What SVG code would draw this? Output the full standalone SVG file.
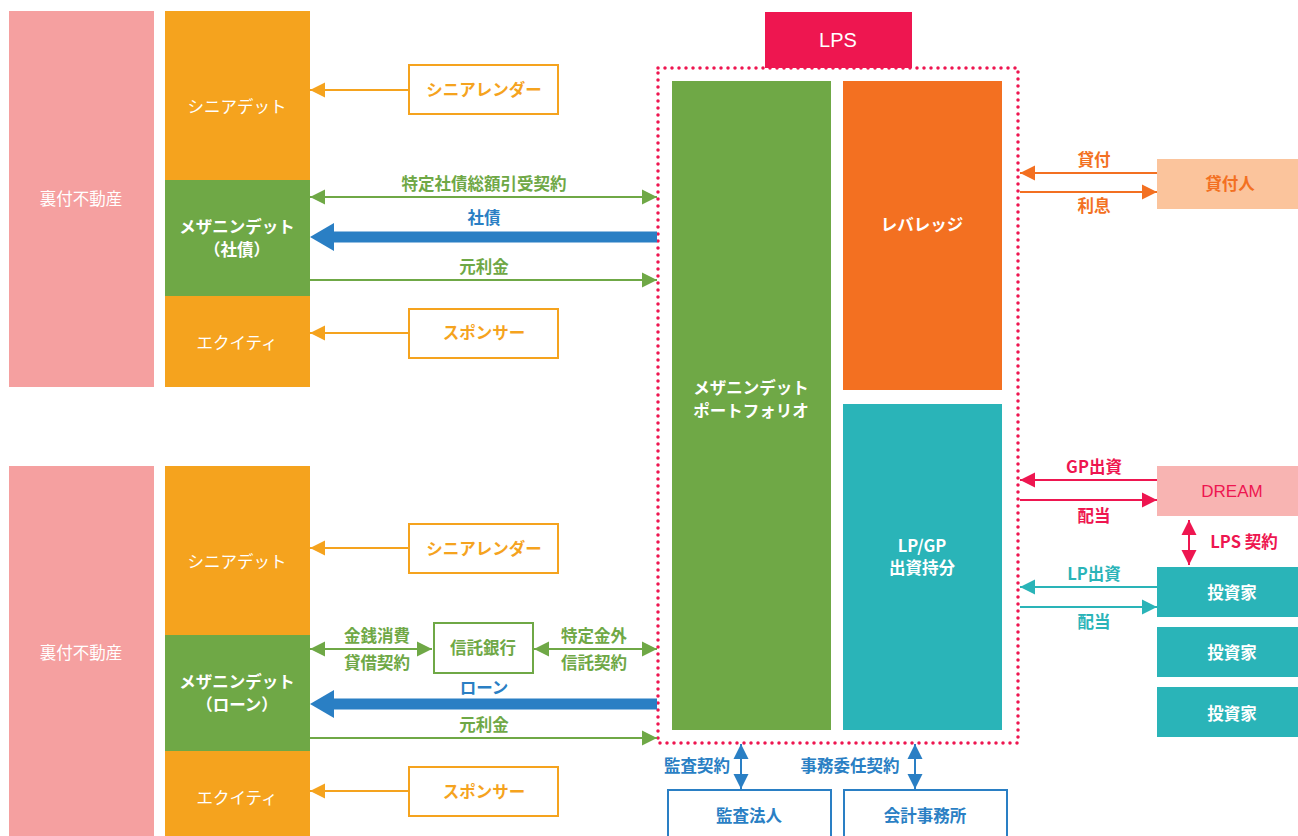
<svg xmlns="http://www.w3.org/2000/svg" width="1298" height="836" viewBox="0 0 1298 836">
<style>
text{font-family:"Noto Sans CJK JP","Liberation Sans",sans-serif;font-size:16.5px;text-anchor:middle;dominant-baseline:central}
.b{font-weight:bold}
.w{fill:#fff}
.og{fill:#f5a31e}.gr{fill:#6fa846}.bl{fill:#2a7fc4}.rd{fill:#ee1650}.or{fill:#f37021}.tl{fill:#2ab4b8}
.ln{fill:none;stroke-width:2}
</style>
<defs>
<marker id="ao" viewBox="0 0 10 10" refX="10" refY="5" markerWidth="15" markerHeight="16" markerUnits="userSpaceOnUse" orient="auto-start-reverse"><path d="M0,0L10,5L0,10z" fill="#f5a31e"/></marker>
<marker id="ag" viewBox="0 0 10 10" refX="10" refY="5" markerWidth="15" markerHeight="16" markerUnits="userSpaceOnUse" orient="auto-start-reverse"><path d="M0,0L10,5L0,10z" fill="#6fa846"/></marker>
<marker id="ab" viewBox="0 0 10 10" refX="10" refY="5" markerWidth="15" markerHeight="16" markerUnits="userSpaceOnUse" orient="auto-start-reverse"><path d="M0,0L10,5L0,10z" fill="#2a7fc4"/></marker>
<marker id="ar" viewBox="0 0 10 10" refX="10" refY="5" markerWidth="15" markerHeight="16" markerUnits="userSpaceOnUse" orient="auto-start-reverse"><path d="M0,0L10,5L0,10z" fill="#ee1650"/></marker>
<marker id="aor" viewBox="0 0 10 10" refX="10" refY="5" markerWidth="15" markerHeight="16" markerUnits="userSpaceOnUse" orient="auto-start-reverse"><path d="M0,0L10,5L0,10z" fill="#f37021"/></marker>
<marker id="at" viewBox="0 0 10 10" refX="10" refY="5" markerWidth="15" markerHeight="16" markerUnits="userSpaceOnUse" orient="auto-start-reverse"><path d="M0,0L10,5L0,10z" fill="#2ab4b8"/></marker>
</defs>

<g id="real-estate-top"><rect x="9" y="11" width="145" height="376" fill="#f5a0a0"/><text x="81" y="198" class="w">裏付不動産</text></g>
<g id="senior-top"><rect x="165" y="11" width="145" height="169" fill="#f5a31e"/><text x="237" y="106" class="w">シニアデット</text></g>
<g id="mezz-top"><rect x="165" y="180" width="145" height="116" fill="#6fa846"/><text x="237" y="226" class="w b">メザニンデット</text><text x="237" y="249" class="w b">（社債）</text></g>
<g id="equity-top"><rect x="165" y="296" width="145" height="91" fill="#f5a31e"/><text x="237" y="342" class="w">エクイティ</text></g>

<g id="real-estate-bot"><rect x="9" y="466" width="145" height="370" fill="#f5a0a0"/><text x="81" y="652" class="w">裏付不動産</text></g>
<g id="senior-bot"><rect x="165" y="466" width="145" height="169" fill="#f5a31e"/><text x="237" y="561" class="w">シニアデット</text></g>
<g id="mezz-bot"><rect x="165" y="635" width="145" height="116" fill="#6fa846"/><text x="237" y="681" class="w b">メザニンデット</text><text x="237" y="704" class="w b">（ローン）</text></g>
<g id="equity-bot"><rect x="165" y="751" width="145" height="85" fill="#f5a31e"/><text x="237" y="797" class="w">エクイティ</text></g>

<g id="lender-top"><rect x="409" y="65" width="149" height="49" fill="#fff" stroke="#f5a31e" stroke-width="2"/><text x="484" y="89" class="og b">シニアレンダー</text></g>
<g id="sponsor-top"><rect x="409" y="309" width="149" height="49" fill="#fff" stroke="#f5a31e" stroke-width="2"/><text x="484" y="332" class="og b">スポンサー</text></g>
<g id="lender-bot"><rect x="409" y="524" width="149" height="49" fill="#fff" stroke="#f5a31e" stroke-width="2"/><text x="484" y="548" class="og b">シニアレンダー</text></g>
<g id="sponsor-bot"><rect x="409" y="767" width="149" height="49" fill="#fff" stroke="#f5a31e" stroke-width="2"/><text x="484" y="791" class="og b">スポンサー</text></g>
<g id="trust-bank"><rect x="434" y="623" width="99" height="50" fill="#fff" stroke="#6fa846" stroke-width="2"/><text x="483" y="647" class="gr b">信託銀行</text></g>

<g id="lps"><rect x="658" y="68" width="360" height="675" fill="none" stroke="#ee1650" stroke-width="3.5" stroke-dasharray="0 7" stroke-linecap="round"/><rect x="765" y="12" width="147" height="56" fill="#ee1650"/><text x="838" y="40" class="w" style="font-family:'Liberation Sans',sans-serif;font-size:20px">LPS</text></g>
<g id="portfolio"><rect x="672" y="81" width="159" height="649" fill="#6fa846"/><text x="751" y="387" class="w b">メザニンデット</text><text x="751" y="410" class="w b">ポートフォリオ</text></g>
<g id="leverage"><rect x="843" y="81" width="159" height="309" fill="#f37021"/><text x="922" y="224" class="w b">レバレッジ</text></g>
<g id="equity-share"><rect x="843" y="404" width="159" height="326" fill="#2ab4b8"/><text x="922" y="545" class="w b">LP/GP</text><text x="922" y="567" class="w b">出資持分</text></g>

<g id="auditor"><rect x="668" y="790" width="163" height="50" fill="#fff" stroke="#2a7fc4" stroke-width="2"/><text x="749" y="815" class="bl b">監査法人</text></g>
<g id="accountant"><rect x="844" y="790" width="163" height="50" fill="#fff" stroke="#2a7fc4" stroke-width="2"/><text x="925" y="815" class="bl b">会計事務所</text></g>

<g id="lender-right"><rect x="1157" y="159" width="141" height="50" fill="#fbc49c"/><text x="1230" y="183" class="or b">貸付人</text></g>
<g id="dream"><rect x="1157" y="466" width="141" height="50" fill="#f8b4b2"/><text x="1232" y="491" class="rd" style="font-family:'Liberation Sans',sans-serif;font-size:17px">DREAM</text></g>
<g id="investor1"><rect x="1157" y="567" width="141" height="50" fill="#2ab4b8"/><text x="1232" y="592" class="w b">投資家</text></g>
<g id="investor2"><rect x="1157" y="627" width="141" height="50" fill="#2ab4b8"/><text x="1232" y="652" class="w b">投資家</text></g>
<g id="investor3"><rect x="1157" y="687" width="141" height="50" fill="#2ab4b8"/><text x="1232" y="713" class="w b">投資家</text></g>

<g id="connectors">
<line x1="409" y1="90" x2="310" y2="90" class="ln" stroke="#f5a31e" marker-end="url(#ao)"/>
<line x1="409" y1="333" x2="310" y2="333" class="ln" stroke="#f5a31e" marker-end="url(#ao)"/>
<line x1="409" y1="548" x2="310" y2="548" class="ln" stroke="#f5a31e" marker-end="url(#ao)"/>
<line x1="409" y1="791" x2="310" y2="791" class="ln" stroke="#f5a31e" marker-end="url(#ao)"/>

<line x1="310" y1="197" x2="657" y2="197" class="ln" stroke="#6fa846" marker-start="url(#ag)" marker-end="url(#ag)"/>
<text x="484" y="183" class="gr b">特定社債総額引受契約</text>
<line x1="657" y1="237" x2="325" y2="237" stroke="#2a7fc4" stroke-width="11"/>
<path d="M310,237L334,223L334,251z" fill="#2a7fc4"/>
<text x="484" y="217" class="bl b">社債</text>
<line x1="310" y1="280" x2="657" y2="280" class="ln" stroke="#6fa846" marker-end="url(#ag)"/>
<text x="484" y="266" class="gr b">元利金</text>

<line x1="310" y1="649" x2="432" y2="649" class="ln" stroke="#6fa846" marker-start="url(#ag)" marker-end="url(#ag)"/>
<text x="377" y="635" class="gr b">金銭消費</text>
<text x="377" y="662" class="gr b">貸借契約</text>
<line x1="534" y1="649" x2="657" y2="649" class="ln" stroke="#6fa846" marker-start="url(#ag)" marker-end="url(#ag)"/>
<text x="594" y="635" class="gr b">特定金外</text>
<text x="594" y="662" class="gr b">信託契約</text>
<line x1="657" y1="704" x2="325" y2="704" stroke="#2a7fc4" stroke-width="11"/>
<path d="M310,704L334,690L334,718z" fill="#2a7fc4"/>
<text x="484" y="687" class="bl b">ローン</text>
<line x1="310" y1="738" x2="657" y2="738" class="ln" stroke="#6fa846" marker-end="url(#ag)"/>
<text x="484" y="724" class="gr b">元利金</text>

<line x1="741" y1="744" x2="741" y2="789" class="ln" stroke="#2a7fc4" marker-start="url(#ab)" marker-end="url(#ab)"/>
<text x="697" y="765" class="bl b">監査契約</text>
<line x1="915" y1="744" x2="915" y2="789" class="ln" stroke="#2a7fc4" marker-start="url(#ab)" marker-end="url(#ab)"/>
<text x="850" y="765" class="bl b">事務委任契約</text>

<line x1="1157" y1="173" x2="1020" y2="173" class="ln" stroke="#f37021" marker-end="url(#aor)"/>
<text x="1094" y="159" class="or b">貸付</text>
<line x1="1020" y1="192" x2="1157" y2="192" class="ln" stroke="#f37021" marker-end="url(#aor)"/>
<text x="1094" y="205" class="or b">利息</text>

<line x1="1157" y1="480" x2="1020" y2="480" class="ln" stroke="#ee1650" marker-end="url(#ar)"/>
<text x="1094" y="466" class="rd b">GP出資</text>
<line x1="1020" y1="500" x2="1157" y2="500" class="ln" stroke="#ee1650" marker-end="url(#ar)"/>
<text x="1094" y="515" class="rd b">配当</text>
<line x1="1189" y1="520" x2="1189" y2="565" class="ln" stroke="#ee1650" marker-start="url(#ar)" marker-end="url(#ar)"/>
<text x="1244" y="541" class="rd b">LPS 契約</text>

<line x1="1157" y1="587" x2="1020" y2="587" class="ln" stroke="#2ab4b8" marker-end="url(#at)"/>
<text x="1094" y="573" class="tl b">LP出資</text>
<line x1="1020" y1="607" x2="1157" y2="607" class="ln" stroke="#2ab4b8" marker-end="url(#at)"/>
<text x="1094" y="621" class="tl b">配当</text>
</g>
</svg>
